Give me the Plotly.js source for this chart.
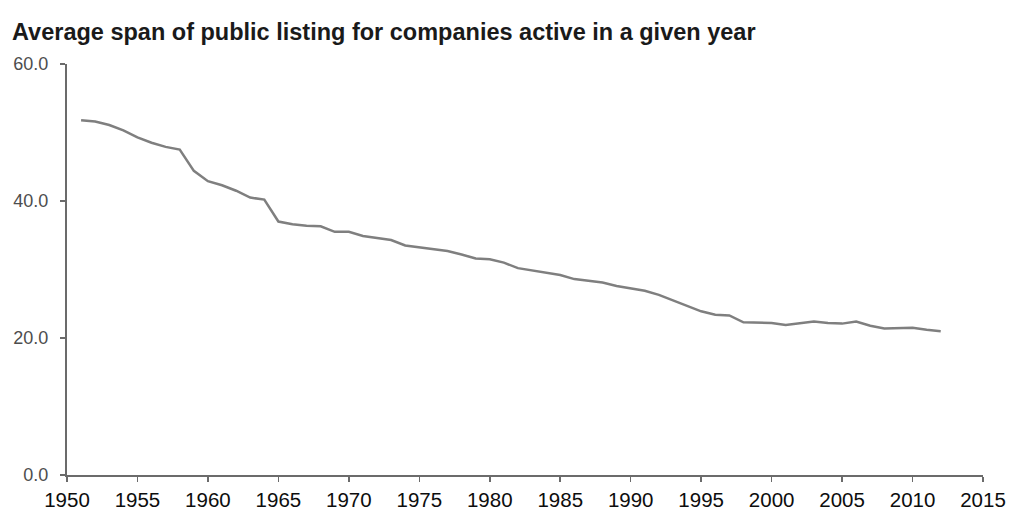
<!DOCTYPE html>
<html>
<head>
<meta charset="utf-8">
<script src="https://cdn.plot.ly/plotly-3.0.1.min.js"></script>
<style>
  html, body { margin: 0; padding: 0; background: #ffffff; }
  #chart { width: 1011px; height: 511px; }
</style>
</head>
<body>
<div id="chart"></div>
<script>
const years = [1951,1952,1953,1954,1955,1956,1957,1958,1959,1960,
               1961,1962,1963,1964,1965,1966,1967,1968,1969,1970,
               1971,1972,1973,1974,1975,1976,1977,1978,1979,1980,
               1981,1982,1983,1984,1985,1986,1987,1988,1989,1990,
               1991,1992,1993,1994,1995,1996,1997,1998,1999,2000,
               2001,2002,2003,2004,2005,2006,2007,2008,2009,2010,
               2011,2012];
const avgSpan = [51.8,51.6,51.1,50.3,49.3,48.5,47.9,47.5,44.4,42.9,
                 42.3,41.5,40.5,40.2,37.0,36.6,36.4,36.3,35.5,35.5,
                 34.9,34.6,34.3,33.5,33.2,33.0,32.7,32.2,31.6,31.5,
                 31.0,30.2,29.9,29.6,29.2,28.6,28.3,28.1,27.6,27.3,
                 26.9,26.3,25.5,24.8,23.9,23.4,23.3,22.3,22.3,22.2,
                 21.9,22.2,22.4,22.2,22.1,22.4,21.8,21.4,21.4,21.5,
                 21.2,21.0];
const xTicks = [1950,1955,1960,1965,1970,1975,1980,1985,1990,1995,2000,2005,2010,2015];
const yTicks = [0,20,40,60];
const yTickText = ["0.0","20.0","40.0","60.0"];
const chartTitle = "Average span of public listing for companies active in a given year";

const trace = {
  x: years, y: avgSpan, type: "scatter", mode: "lines",
  line: { color: "#7f7f7f", width: 2.5 },
  hoverinfo: "skip"
};

const layout = {
  width: 1011, height: 511,
  paper_bgcolor: "#ffffff", plot_bgcolor: "#ffffff",
  margin: { l: 67, r: 28, t: 64, b: 36 },
  showlegend: false,
  title: {
    text: chartTitle,
    x: 12 / 1011, xanchor: "left", xref: "container",
    y: 1 - 32 / 511, yanchor: "middle", yref: "container",
    font: { family: "Liberation Sans, Arial, sans-serif", size: 23.5, color: "#1a1a1a", weight: "bold" }
  },
  xaxis: {
    range: [1950, 2015], tickvals: xTicks, ticktext: xTicks.map(String),
    showgrid: false, zeroline: false,
    showline: true, linecolor: "#6b6b6b", linewidth: 2,
    ticks: "outside", ticklen: 5, tickwidth: 1.5, tickcolor: "#6b6b6b",
    tickfont: { family: "Liberation Sans, Arial, sans-serif", size: 20.5, color: "#0d0d0d" },
    fixedrange: true
  },
  yaxis: {
    range: [0, 60], tickvals: yTicks, ticktext: yTickText,
    showgrid: false, zeroline: false,
    showline: true, linecolor: "#6b6b6b", linewidth: 2,
    ticks: "outside", ticklen: 5, tickwidth: 1.5, tickcolor: "#6b6b6b",
    ticklabelstandoff: 8,
    tickfont: { family: "Liberation Sans, Arial, sans-serif", size: 18, color: "#4d4d4d" },
    fixedrange: true
  }
};

Plotly.newPlot("chart", [trace], layout, { displayModeBar: false, staticPlot: true });
</script>
</body>
</html>
